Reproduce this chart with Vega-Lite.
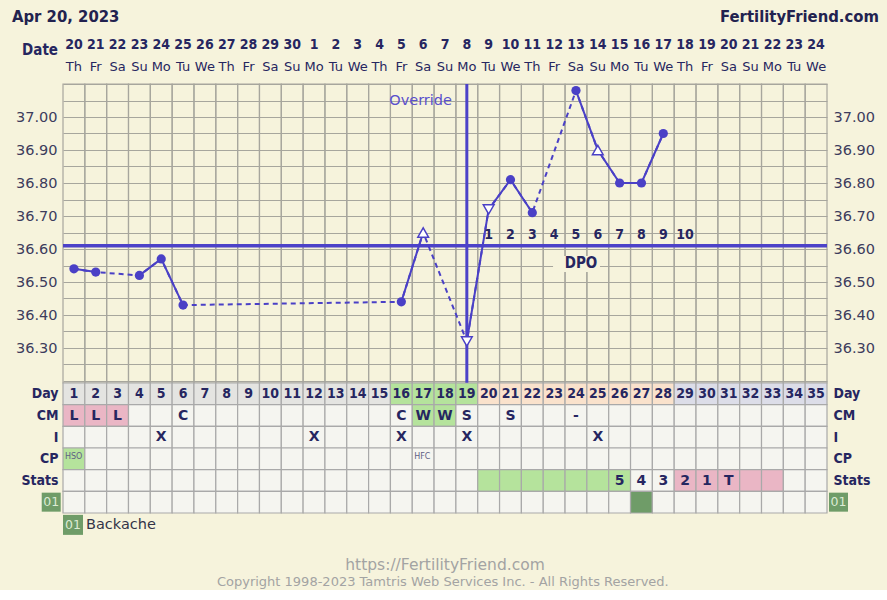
{
 "$schema": "https://vega.github.io/schema/vega-lite/v6.json",
 "width": 764,
 "height": 429,
 "autosize": {"type": "none"},
 "padding": {"left": 63, "top": 84, "right": 60, "bottom": 77},
 "background": "#f6f3dc",
 "config": {
  "view": {"stroke": null},
  "font": "DejaVu Sans",
  "text": {"font": "DejaVu Sans", "baseline": "middle"},
  "axis": {"domain": false, "ticks": false, "title": null}
 },
 "datasets": {
  "days": [
   {"day":1,"date":"20","wd":"Th","phase":"pre","cm":"L","sex":"","cp":"HSO","stat":"","statk":"","sym":"","dpo":""},
   {"day":2,"date":"21","wd":"Fr","phase":"pre","cm":"L","sex":"","cp":"","stat":"","statk":"","sym":"","dpo":""},
   {"day":3,"date":"22","wd":"Sa","phase":"pre","cm":"L","sex":"","cp":"","stat":"","statk":"","sym":"","dpo":""},
   {"day":4,"date":"23","wd":"Su","phase":"pre","cm":"","sex":"","cp":"","stat":"","statk":"","sym":"","dpo":""},
   {"day":5,"date":"24","wd":"Mo","phase":"pre","cm":"","sex":"X","cp":"","stat":"","statk":"","sym":"","dpo":""},
   {"day":6,"date":"25","wd":"Tu","phase":"pre","cm":"C","sex":"","cp":"","stat":"","statk":"","sym":"","dpo":""},
   {"day":7,"date":"26","wd":"We","phase":"pre","cm":"","sex":"","cp":"","stat":"","statk":"","sym":"","dpo":""},
   {"day":8,"date":"27","wd":"Th","phase":"pre","cm":"","sex":"","cp":"","stat":"","statk":"","sym":"","dpo":""},
   {"day":9,"date":"28","wd":"Fr","phase":"pre","cm":"","sex":"","cp":"","stat":"","statk":"","sym":"","dpo":""},
   {"day":10,"date":"29","wd":"Sa","phase":"pre","cm":"","sex":"","cp":"","stat":"","statk":"","sym":"","dpo":""},
   {"day":11,"date":"30","wd":"Su","phase":"pre","cm":"","sex":"","cp":"","stat":"","statk":"","sym":"","dpo":""},
   {"day":12,"date":"1","wd":"Mo","phase":"pre","cm":"","sex":"X","cp":"","stat":"","statk":"","sym":"","dpo":""},
   {"day":13,"date":"2","wd":"Tu","phase":"pre","cm":"","sex":"","cp":"","stat":"","statk":"","sym":"","dpo":""},
   {"day":14,"date":"3","wd":"We","phase":"pre","cm":"","sex":"","cp":"","stat":"","statk":"","sym":"","dpo":""},
   {"day":15,"date":"4","wd":"Th","phase":"pre","cm":"","sex":"","cp":"","stat":"","statk":"","sym":"","dpo":""},
   {"day":16,"date":"5","wd":"Fr","phase":"fertile","cm":"C","sex":"X","cp":"","stat":"","statk":"","sym":"","dpo":""},
   {"day":17,"date":"6","wd":"Sa","phase":"fertile","cm":"W","sex":"","cp":"HFC","stat":"","statk":"","sym":"","dpo":""},
   {"day":18,"date":"7","wd":"Su","phase":"fertile","cm":"W","sex":"","cp":"","stat":"","statk":"","sym":"","dpo":""},
   {"day":19,"date":"8","wd":"Mo","phase":"fertile","cm":"S","sex":"X","cp":"","stat":"","statk":"","sym":"","dpo":""},
   {"day":20,"date":"9","wd":"Tu","phase":"post","cm":"","sex":"","cp":"","stat":"","statk":"window","sym":"","dpo":"1"},
   {"day":21,"date":"10","wd":"We","phase":"post","cm":"S","sex":"","cp":"","stat":"","statk":"window","sym":"","dpo":"2"},
   {"day":22,"date":"11","wd":"Th","phase":"post","cm":"","sex":"","cp":"","stat":"","statk":"window","sym":"","dpo":"3"},
   {"day":23,"date":"12","wd":"Fr","phase":"post","cm":"","sex":"","cp":"","stat":"","statk":"window","sym":"","dpo":"4"},
   {"day":24,"date":"13","wd":"Sa","phase":"post","cm":"-","sex":"","cp":"","stat":"","statk":"window","sym":"","dpo":"5"},
   {"day":25,"date":"14","wd":"Su","phase":"post","cm":"","sex":"X","cp":"","stat":"","statk":"window","sym":"","dpo":"6"},
   {"day":26,"date":"15","wd":"Mo","phase":"post","cm":"","sex":"","cp":"","stat":"5","statk":"window","sym":"","dpo":"7"},
   {"day":27,"date":"16","wd":"Tu","phase":"post","cm":"","sex":"","cp":"","stat":"4","statk":"","sym":"01","dpo":"8"},
   {"day":28,"date":"17","wd":"We","phase":"post","cm":"","sex":"","cp":"","stat":"3","statk":"","sym":"","dpo":"9"},
   {"day":29,"date":"18","wd":"Th","phase":"future","cm":"","sex":"","cp":"","stat":"2","statk":"test","sym":"","dpo":"10"},
   {"day":30,"date":"19","wd":"Fr","phase":"future","cm":"","sex":"","cp":"","stat":"1","statk":"test","sym":"","dpo":""},
   {"day":31,"date":"20","wd":"Sa","phase":"future","cm":"","sex":"","cp":"","stat":"T","statk":"test","sym":"","dpo":""},
   {"day":32,"date":"21","wd":"Su","phase":"future","cm":"","sex":"","cp":"","stat":"","statk":"test","sym":"","dpo":""},
   {"day":33,"date":"22","wd":"Mo","phase":"future","cm":"","sex":"","cp":"","stat":"","statk":"test","sym":"","dpo":""},
   {"day":34,"date":"23","wd":"Tu","phase":"future","cm":"","sex":"","cp":"","stat":"","statk":"","sym":"","dpo":""},
   {"day":35,"date":"24","wd":"We","phase":"future","cm":"","sex":"","cp":"","stat":"","statk":"","sym":"","dpo":""}
  ],
  "temps": [
   {"day":1,"t":36.54,"m":"c"},
   {"day":2,"t":36.53,"m":"c"},
   {"day":3,"t":null,"m":""},
   {"day":4,"t":36.52,"m":"c"},
   {"day":5,"t":36.57,"m":"c"},
   {"day":6,"t":36.43,"m":"c"},
   {"day":7,"t":null,"m":""},
   {"day":8,"t":null,"m":""},
   {"day":9,"t":null,"m":""},
   {"day":10,"t":null,"m":""},
   {"day":11,"t":null,"m":""},
   {"day":12,"t":null,"m":""},
   {"day":13,"t":null,"m":""},
   {"day":14,"t":null,"m":""},
   {"day":15,"t":null,"m":""},
   {"day":16,"t":36.44,"m":"c"},
   {"day":17,"t":36.65,"m":"up"},
   {"day":18,"t":null,"m":""},
   {"day":19,"t":36.32,"m":"down"},
   {"day":20,"t":36.72,"m":"down"},
   {"day":21,"t":36.81,"m":"c"},
   {"day":22,"t":36.71,"m":"c"},
   {"day":23,"t":null,"m":""},
   {"day":24,"t":37.08,"m":"c"},
   {"day":25,"t":36.90,"m":"up"},
   {"day":26,"t":36.80,"m":"c"},
   {"day":27,"t":36.80,"m":"c"},
   {"day":28,"t":36.95,"m":"c"}
  ]
 },
 "layer": [
  {
   "layer": [
    {
     "data": {"name": "days"},
     "mark": {"type": "rect", "fillOpacity": 0, "stroke": "#a7a69d", "strokeWidth": 1.2},
     "encoding": {
      "x": {"field": "day", "type": "ordinal", "scale": {"paddingInner": 0, "paddingOuter": 0}, "axis": null},
      "y": {"datum": 13.8, "type": "quantitative", "scale": {"domain": [-6, 13.8], "nice": false, "zero": false},
            "axis": {"values": [-0.5, -1.5, -2.5, -3.5, -4.5], "orient": "left", "grid": false,
                     "labelExpr": "datum.value == -0.5 ? 'Day' : datum.value == -1.5 ? 'CM' : datum.value == -2.5 ? 'I' : datum.value == -3.5 ? 'CP' : 'Stats'",
                     "labelFont": "DejaVu Sans Condensed, DejaVu Sans", "labelFontWeight": "bold", "labelFontSize": 14, "labelColor": "#262660", "labelPadding": 5}},
      "y2": {"datum": 0}
     }
    },
    {
     "data": {"name": "days"},
     "mark": {"type": "rect", "stroke": "#a9a9a9", "strokeWidth": 1.2},
     "encoding": {
      "x": {"field": "day", "type": "ordinal", "axis": null},
      "y": {"datum": 0, "type": "quantitative",
            "axis": {"values": [-0.5, -1.5, -2.5, -3.5, -4.5], "orient": "right", "grid": false,
                     "labelExpr": "datum.value == -0.5 ? 'Day' : datum.value == -1.5 ? 'CM' : datum.value == -2.5 ? 'I' : datum.value == -3.5 ? 'CP' : 'Stats'",
                     "labelFont": "DejaVu Sans Condensed, DejaVu Sans", "labelFontWeight": "bold", "labelFontSize": 14, "labelColor": "#262660", "labelPadding": 6}},
      "y2": {"datum": -1},
      "fill": {"field": "phase", "type": "nominal", "scale": {"domain": ["pre", "fertile", "post", "future"], "range": ["#e4e4e1", "#b5e39c", "#fae2cc", "#dcdde8"]}, "legend": null}
     }
    },
    {
     "data": {"name": "days"},
     "mark": {"type": "text", "fontWeight": "bold", "fontSize": 14, "color": "#262660", "font": "DejaVu Sans Condensed, DejaVu Sans"},
     "encoding": {
      "x": {"field": "day", "type": "ordinal", "axis": null},
      "y": {"datum": -0.5, "type": "quantitative", "axis": null},
      "text": {"field": "day", "type": "nominal"}
     }
    },
    {
     "data": {"name": "days"},
     "mark": {"type": "rect", "stroke": "#a9a9a9", "strokeWidth": 1.2},
     "encoding": {
      "x": {"field": "day", "type": "ordinal", "axis": null},
      "y": {"datum": -1, "type": "quantitative", "axis": null},
      "y2": {"datum": -2},
      "fill": {"field": "cm", "type": "nominal", "scale": {"domain": ["L", "W", "C", "S", "-", ""], "range": ["#eab6c5", "#b5e39c", "#f5f5f0", "#f5f5f0", "#f5f5f0", "#f5f5f0"]}, "legend": null}
     }
    },
    {
     "data": {"name": "days"},
     "transform": [{"filter": "datum.cm != ''"}],
     "mark": {"type": "text", "fontWeight": "bold", "fontSize": 14, "color": "#262660"},
     "encoding": {
      "x": {"field": "day", "type": "ordinal", "axis": null},
      "y": {"datum": -1.5, "type": "quantitative", "axis": null},
      "text": {"field": "cm", "type": "nominal"}
     }
    },
    {
     "data": {"name": "days"},
     "mark": {"type": "rect", "stroke": "#a9a9a9", "strokeWidth": 1.2, "fill": "#f5f5f0"},
     "encoding": {
      "x": {"field": "day", "type": "ordinal", "axis": null},
      "y": {"datum": -2, "type": "quantitative", "axis": null},
      "y2": {"datum": -3}
     }
    },
    {
     "data": {"name": "days"},
     "transform": [{"filter": "datum.sex != ''"}],
     "mark": {"type": "text", "fontWeight": "bold", "fontSize": 14, "color": "#262660"},
     "encoding": {
      "x": {"field": "day", "type": "ordinal", "axis": null},
      "y": {"datum": -2.5, "type": "quantitative", "axis": null},
      "text": {"field": "sex", "type": "nominal"}
     }
    },
    {
     "data": {"name": "days"},
     "mark": {"type": "rect", "stroke": "#a9a9a9", "strokeWidth": 1.2},
     "encoding": {
      "x": {"field": "day", "type": "ordinal", "axis": null},
      "y": {"datum": -3, "type": "quantitative", "axis": null},
      "y2": {"datum": -4},
      "fill": {"field": "cp", "type": "nominal", "scale": {"domain": ["HSO", "HFC", ""], "range": ["#b5e39c", "#f5f5f0", "#f5f5f0"]}, "legend": null}
     }
    },
    {
     "data": {"name": "days"},
     "transform": [{"filter": "datum.cp != ''"}],
     "mark": {"type": "text", "fontSize": 8, "color": "#5f5f85", "align": "left", "dx": -9, "dy": -2},
     "encoding": {
      "x": {"field": "day", "type": "ordinal", "axis": null},
      "y": {"datum": -3.5, "type": "quantitative", "axis": null},
      "text": {"field": "cp", "type": "nominal"}
     }
    },
    {
     "data": {"name": "days"},
     "mark": {"type": "rect", "stroke": "#a9a9a9", "strokeWidth": 1.2},
     "encoding": {
      "x": {"field": "day", "type": "ordinal", "axis": null},
      "y": {"datum": -4, "type": "quantitative", "axis": null},
      "y2": {"datum": -5},
      "fill": {"field": "statk", "type": "nominal", "scale": {"domain": ["window", "test", ""], "range": ["#b5e39c", "#eab6c5", "#f5f5f0"]}, "legend": null}
     }
    },
    {
     "data": {"name": "days"},
     "transform": [{"filter": "datum.stat != ''"}],
     "mark": {"type": "text", "fontWeight": "bold", "fontSize": 14, "color": "#262660"},
     "encoding": {
      "x": {"field": "day", "type": "ordinal", "axis": null},
      "y": {"datum": -4.5, "type": "quantitative", "axis": null},
      "text": {"field": "stat", "type": "nominal"}
     }
    },
    {
     "data": {"name": "days"},
     "mark": {"type": "rect", "stroke": "#a9a9a9", "strokeWidth": 1.2},
     "encoding": {
      "x": {"field": "day", "type": "ordinal", "axis": null},
      "y": {"datum": -5, "type": "quantitative", "axis": null},
      "y2": {"datum": -6},
      "fill": {"field": "sym", "type": "nominal", "scale": {"domain": ["01", ""], "range": ["#6f9c68", "#f5f5f0"]}, "legend": null}
     }
    },
    {
     "data": {"values": [{}]},
     "mark": {"type": "point", "shape": "square", "filled": true, "color": "#6f9c68", "size": 361, "opacity": 1, "xOffset": -22.7},
     "encoding": {
      "x": {"datum": 1, "type": "ordinal", "axis": null},
      "y": {"datum": -5.5, "type": "quantitative", "axis": null}
     }
    },
    {
     "data": {"values": [{}]},
     "mark": {"type": "text", "text": "01", "fontSize": 12.5, "color": "#dcebd4", "dx": -22.7},
     "encoding": {
      "x": {"datum": 1, "type": "ordinal", "axis": null},
      "y": {"datum": -5.5, "type": "quantitative", "axis": null}
     }
    },
    {
     "data": {"values": [{}]},
     "mark": {"type": "point", "shape": "square", "filled": true, "color": "#6f9c68", "size": 361, "opacity": 1, "xOffset": 22.4},
     "encoding": {
      "x": {"datum": 35, "type": "ordinal", "axis": null},
      "y": {"datum": -5.5, "type": "quantitative", "axis": null}
     }
    },
    {
     "data": {"values": [{}]},
     "mark": {"type": "text", "text": "01", "fontSize": 12.5, "color": "#dcebd4", "dx": 22.4},
     "encoding": {
      "x": {"datum": 35, "type": "ordinal", "axis": null},
      "y": {"datum": -5.5, "type": "quantitative", "axis": null}
     }
    }
   ],
   "resolve": {"scale": {"fill": "independent"}, "axis": {"y": "independent"}}
  },
  {
   "layer": [
    {
     "data": {"values": [{}]},
     "mark": {"type": "rect", "fill": "#f6f3dc"},
     "encoding": {
      "x": {"datum": 22.95, "type": "quantitative", "scale": {"domain": [0.5, 35.5], "nice": false, "zero": false}, "axis": null},
      "x2": {"datum": 25.1},
      "y": {"datum": 36.579, "type": "quantitative", "scale": {"domain": [35.8, 37.1], "nice": false, "zero": false},
            "axis": {"values": [36.2,36.25,36.3,36.35,36.4,36.45,36.5,36.55,36.6,36.65,36.7,36.75,36.8,36.85,36.9,36.95,37,37.05,37.1],
                     "grid": true, "labels": false, "gridColor": "#a7a69d", "gridWidth": 1.2, "orient": "left"}},
      "y2": {"datum": 36.53}
     }
    },
    {
     "data": {"values": [{}]},
     "mark": {"type": "rule", "color": "#4c42c8", "strokeWidth": 3.5},
     "encoding": {
      "x": {"datum": 0.5, "type": "quantitative", "axis": null},
      "x2": {"datum": 35.5},
      "y": {"datum": 36.61, "type": "quantitative", "axis": null}
     }
    },
    {
     "data": {"values": [{}]},
     "mark": {"type": "rule", "color": "#4c42c8", "strokeWidth": 3},
     "encoding": {
      "x": {"datum": 19, "type": "quantitative", "axis": null},
      "y": {"datum": 37.1, "type": "quantitative", "axis": null},
      "y2": {"datum": 36.195}
     }
    },
    {
     "data": {"name": "temps"},
     "transform": [{"filter": "datum.t != null"}],
     "mark": {"type": "line", "color": "#4a40c6", "strokeWidth": 2, "strokeDash": [5, 4]},
     "encoding": {
      "x": {"field": "day", "type": "quantitative", "axis": null},
      "y": {"field": "t", "type": "quantitative", "axis": null}
     }
    },
    {
     "data": {"name": "temps"},
     "mark": {"type": "line", "color": "#4a40c6", "strokeWidth": 2},
     "encoding": {
      "x": {"field": "day", "type": "quantitative", "axis": null},
      "y": {"field": "t", "type": "quantitative",
            "axis": {"values": [36.3,36.4,36.5,36.6,36.7,36.8,36.9,37.0], "format": ".2f", "grid": false, "orient": "left",
                     "labelFontSize": 14.5, "labelColor": "#3d3c5c", "labelPadding": 6, "labelFont": "DejaVu Sans"}}
     }
    },
    {
     "data": {"name": "temps"},
     "transform": [{"filter": "datum.m == 'c'"}],
     "mark": {"type": "point", "filled": true, "color": "#4a40c6", "size": 85, "opacity": 1},
     "encoding": {
      "x": {"field": "day", "type": "quantitative", "axis": null},
      "y": {"field": "t", "type": "quantitative",
            "axis": {"values": [36.3,36.4,36.5,36.6,36.7,36.8,36.9,37.0], "format": ".2f", "grid": false, "orient": "right",
                     "labelFontSize": 14.5, "labelColor": "#3d3c5c", "labelPadding": 6, "labelFont": "DejaVu Sans"}}
     }
    },
    {
     "data": {"name": "temps"},
     "transform": [{"filter": "datum.m == 'up' || datum.m == 'down'"}],
     "mark": {"type": "point", "filled": true, "fill": "#ffffff", "stroke": "#4a40c6", "strokeWidth": 1.5, "size": 115, "opacity": 1},
     "encoding": {
      "x": {"field": "day", "type": "quantitative", "axis": null},
      "y": {"field": "t", "type": "quantitative", "axis": null},
      "shape": {"field": "m", "type": "nominal", "scale": {"domain": ["up", "down"], "range": ["triangle-up", "triangle-down"]}, "legend": null}
     }
    },
    {
     "data": {"name": "days"},
     "mark": {"type": "text", "fontWeight": "bold", "fontSize": 14, "color": "#262660", "font": "DejaVu Sans Condensed, DejaVu Sans"},
     "encoding": {
      "x": {"field": "day", "type": "quantitative", "axis": null},
      "y": {"datum": 37.218, "type": "quantitative", "axis": null},
      "text": {"field": "date", "type": "nominal"}
     }
    },
    {
     "data": {"name": "days"},
     "mark": {"type": "text", "fontSize": 13, "color": "#262660"},
     "encoding": {
      "x": {"field": "day", "type": "quantitative", "axis": null},
      "y": {"datum": 37.152, "type": "quantitative", "axis": null},
      "text": {"field": "wd", "type": "nominal"}
     }
    },
    {
     "data": {"values": [{}]},
     "mark": {"type": "text", "text": "Date", "fontWeight": "bold", "fontSize": 15, "color": "#262660", "align": "right", "dx": -5, "font": "DejaVu Sans Condensed, DejaVu Sans"},
     "encoding": {
      "x": {"datum": 0.5, "type": "quantitative", "axis": null},
      "y": {"datum": 37.203, "type": "quantitative", "axis": null}
     }
    },
    {
     "data": {"values": [{}]},
     "mark": {"type": "text", "text": "Apr 20, 2023", "fontWeight": "bold", "fontSize": 16.5, "color": "#22224f", "align": "left", "font": "DejaVu Sans Condensed, DejaVu Sans"},
     "encoding": {
      "x": {"datum": -1.836, "type": "quantitative", "axis": null},
      "y": {"datum": 37.303, "type": "quantitative", "axis": null}
     }
    },
    {
     "data": {"values": [{}]},
     "mark": {"type": "text", "text": "FertilityFriend.com", "fontWeight": "bold", "fontSize": 16.5, "color": "#22224f", "align": "right", "font": "DejaVu Sans Condensed, DejaVu Sans"},
     "encoding": {
      "x": {"datum": 37.88, "type": "quantitative", "axis": null},
      "y": {"datum": 37.303, "type": "quantitative", "axis": null}
     }
    },
    {
     "data": {"values": [{}]},
     "mark": {"type": "text", "text": "Override", "fontSize": 14.5, "color": "#5a50cc", "align": "right"},
     "encoding": {
      "x": {"datum": 18.32, "type": "quantitative", "axis": null},
      "y": {"datum": 37.048, "type": "quantitative", "axis": null}
     }
    },
    {
     "data": {"name": "days"},
     "transform": [{"filter": "datum.dpo != ''"}],
     "mark": {"type": "text", "fontWeight": "bold", "fontSize": 14, "color": "#262660", "font": "DejaVu Sans Condensed, DejaVu Sans"},
     "encoding": {
      "x": {"field": "day", "type": "quantitative", "axis": null},
      "y": {"datum": 36.642, "type": "quantitative", "axis": null},
      "text": {"field": "dpo", "type": "nominal"}
     }
    },
    {
     "data": {"values": [{}]},
     "mark": {"type": "text", "text": "DPO", "fontWeight": "bold", "fontSize": 15, "color": "#262660", "font": "DejaVu Sans Condensed, DejaVu Sans"},
     "encoding": {
      "x": {"datum": 24.23, "type": "quantitative", "axis": null},
      "y": {"datum": 36.558, "type": "quantitative", "axis": null}
     }
    },
    {
     "data": {"values": [{}]},
     "mark": {"type": "point", "shape": "square", "filled": true, "color": "#6f9c68", "size": 400, "opacity": 1},
     "encoding": {
      "x": {"datum": 0.958, "type": "quantitative", "axis": null},
      "y": {"datum": 35.764, "type": "quantitative", "axis": null}
     }
    },
    {
     "data": {"values": [{}]},
     "mark": {"type": "text", "text": "01", "fontSize": 12.5, "color": "#dcebd4"},
     "encoding": {
      "x": {"datum": 0.958, "type": "quantitative", "axis": null},
      "y": {"datum": 35.764, "type": "quantitative", "axis": null}
     }
    },
    {
     "data": {"values": [{}]},
     "mark": {"type": "text", "text": "Backache", "fontSize": 14.5, "color": "#333348", "align": "left"},
     "encoding": {
      "x": {"datum": 1.554, "type": "quantitative", "axis": null},
      "y": {"datum": 35.764, "type": "quantitative", "axis": null}
     }
    },
    {
     "data": {"values": [{}]},
     "mark": {"type": "text", "text": "https://FertilityFriend.com", "fontSize": 15.5, "color": "#a3a3a3"},
     "encoding": {
      "x": {"datum": 18.0, "type": "quantitative", "axis": null},
      "y": {"datum": 35.642, "type": "quantitative", "axis": null}
     }
    },
    {
     "data": {"values": [{}]},
     "mark": {"type": "text", "text": "Copyright 1998-2023 Tamtris Web Services Inc. - All Rights Reserved.", "fontSize": 13, "color": "#a3a3a3"},
     "encoding": {
      "x": {"datum": 17.9, "type": "quantitative", "axis": null},
      "y": {"datum": 35.591, "type": "quantitative", "axis": null}
     }
    }
   ],
   "resolve": {"axis": {"y": "independent"}}
  }
 ],
 "resolve": {"scale": {"x": "independent", "y": "independent"}, "axis": {"x": "independent", "y": "independent"}}
}
